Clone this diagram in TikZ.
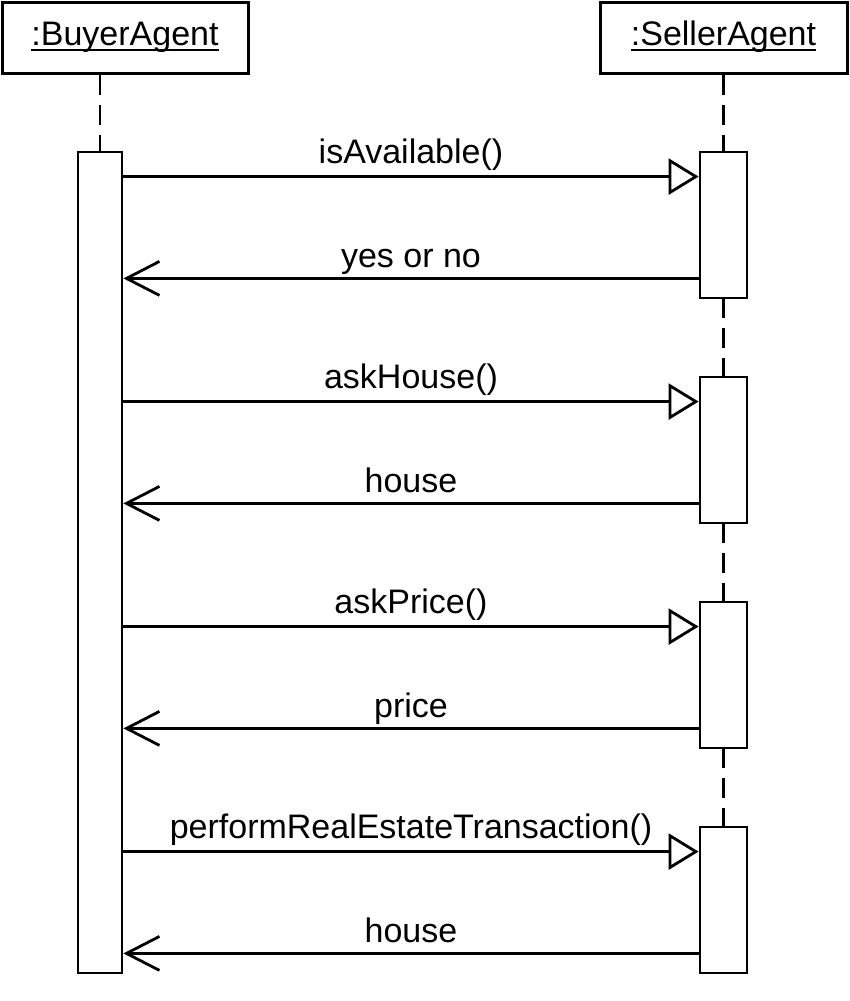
\documentclass[tikz,border=0pt]{standalone}
\usepackage{fontspec}
\setmainfont{Liberation Sans}
\usetikzlibrary{arrows.meta}
\newsavebox\ulbox
\newcommand\ulbl[1]{\sbox\ulbox{#1}\rlap{\rule[-6.2pt]{\wd\ulbox}{2.2pt}}\usebox\ulbox}
\begin{document}
\begin{tikzpicture}[x=1pt,y=-1pt,
  font=\fontsize{34}{40}\selectfont,
  obj/.style={draw, line width=3pt, minimum width=246pt, minimum height=71pt, inner sep=0pt, text height=24pt, text depth=9pt},
  act/.style={draw, fill=white, line width=2.8pt, minimum width=44pt, inner sep=0pt},
  life/.style={line width=2.7pt, dash pattern=on 20pt off 10pt},
  call/.style={line width=2.8pt, -{Triangle[open, length=30pt, width=36pt]}},
  ret/.style={line width=2.8pt, -{Straight Barb[length=33pt, width=34pt]}},
  lbl/.style={anchor=base, inner sep=0pt}]
\useasboundingbox (0,0) rectangle (850,1001);
\node[obj] (buyer) at (125,37.5) {\ulbl{:BuyerAgent}};
\node[obj, minimum width=247pt] (seller) at (723.5,37.5) {\ulbl{:SellerAgent}};
\coordinate (bl) at (100,0);
\coordinate (sl) at (723.5,0);
\draw[life] (bl |- buyer.south) -- (bl |- 0,152);
\draw[life] (sl |- seller.south) -- (sl |- 0,152);
\draw[life] (sl |- 0,298) -- (sl |- 0,377);
\draw[life] (sl |- 0,523) -- (sl |- 0,602);
\draw[life] (sl |- 0,748) -- (sl |- 0,827);
\node[act, minimum height=821pt] (ba) at (100,562.5) {};
\foreach \i/\y in {1/225,2/450,3/675,4/900}
  \node[act, minimum width=47pt, minimum height=146pt] (s\i) at (723.5,\y) {};
\foreach \i/\m/\r in {1/{isAvailable()}/{yes or no},2/{askHouse()}/{house},3/{askPrice()}/{price},4/{performRealEstateTransaction()}/{house}}{
  \coordinate (c\i) at ([yshift=-26pt]s\i.north west);
  \coordinate (r\i) at ([yshift=21pt]s\i.south west);
  \draw[call] (ba.east |- c\i) -- node[lbl, yshift=13pt] (m\i) {\m} (c\i);
  \draw[ret] (r\i) -- node[lbl, yshift=11pt] (t\i) {\r} (ba.east |- r\i);
}
\end{tikzpicture}
\end{document}
